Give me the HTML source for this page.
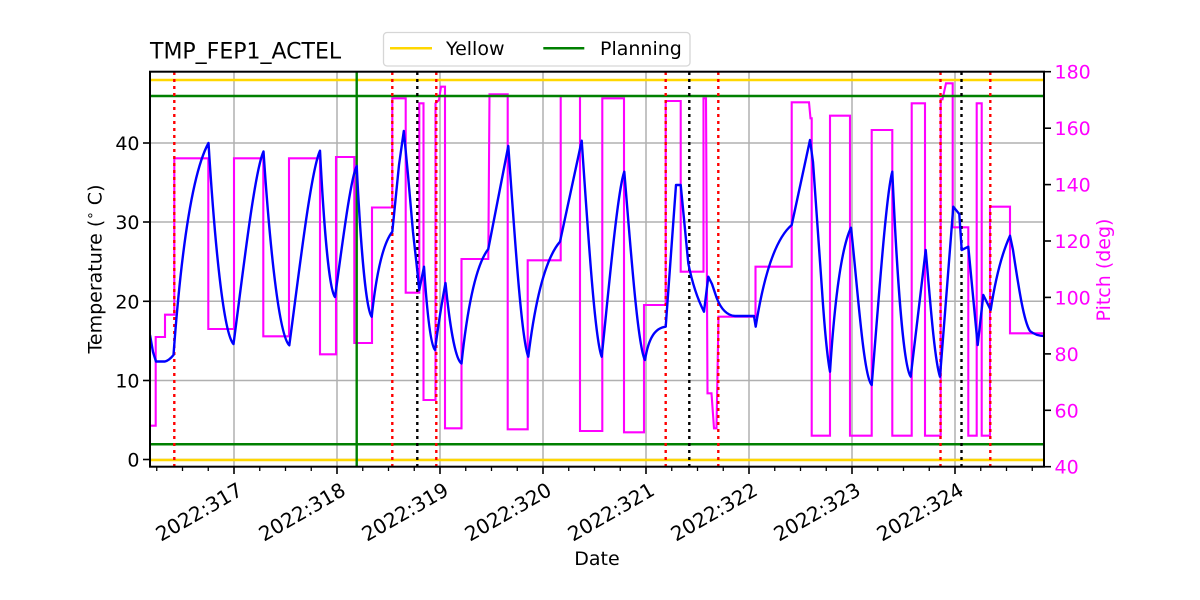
<!DOCTYPE html>
<html>
<head>
<meta charset="utf-8">
<style>
html,body{margin:0;padding:0;background:#fff;}
svg{display:block;}
text{font-family:"DejaVu Sans","Liberation Sans",sans-serif;}
</style>
</head>
<body>
<svg width="1200" height="600" viewBox="0 0 1200 600" xmlns="http://www.w3.org/2000/svg">
<rect x="0" y="0" width="1200" height="600" fill="#fff"/>
<defs>
<clipPath id="pa"><rect x="150" y="71.7" width="894" height="395"/></clipPath>
</defs>

<!-- grid -->
<g stroke="#b0b0b0" stroke-width="1.5" fill="none">
<line x1="234" y1="71.7" x2="234" y2="466.7"/>
<line x1="337" y1="71.7" x2="337" y2="466.7"/>
<line x1="440" y1="71.7" x2="440" y2="466.7"/>
<line x1="543" y1="71.7" x2="543" y2="466.7"/>
<line x1="646" y1="71.7" x2="646" y2="466.7"/>
<line x1="749" y1="71.7" x2="749" y2="466.7"/>
<line x1="852" y1="71.7" x2="852" y2="466.7"/>
<line x1="955" y1="71.7" x2="955" y2="466.7"/>
<line x1="150" y1="459.5" x2="1044" y2="459.5"/>
<line x1="150" y1="380.5" x2="1044" y2="380.5"/>
<line x1="150" y1="301.3" x2="1044" y2="301.3"/>
<line x1="150" y1="222" x2="1044" y2="222"/>
<line x1="150" y1="143" x2="1044" y2="143"/>
</g>

<g clip-path="url(#pa)">
<!-- pitch -->
<path fill="none" stroke="#ff00ff" stroke-width="2.1" stroke-linejoin="miter" d="M150,425.7 H155.7 V337 H165 V314.7 H174.3 V158.3 H208.3 V329 H234 V158.3 H263.3 V336.3 H289 V158.3 H320 V354.3 H336 V157 H354.3 V343 H372 V207.5 H392.3 V98.3 H405.7 V292.7 H419.3 V103.3 H423.5 V400 H435.5 V103.3 L439,100 L441,86.7 H445 V428.3 H461.5 V259 H488.3 L489.5,94.3 H507.7 V429.3 H527.7 V260.3 H560.7 V96 H580 V431 H602.3 V98.3 H624 V432.3 H644 V305 H665.7 V101 H680.7 V271.7 H703.5 V98.3 H706 L707.5,393.3 H711.5 L714,428.3 H716.5 L718.5,316.7 H755.5 V266.7 H791.7 V102.3 H809 L810.5,118.3 H811.7 V435.7 H830 V115.7 H850 V435.7 H871.7 V130 H892.3 V435.7 H911.7 V103.3 H925 V435.7 H940.7 V99.3 L942.5,99.3 L946,83.3 H952.7 V227.3 H968.3 V435.7 H976.7 V103.3 H981.7 V435.7 H990 V206.7 H1010 V333.3 H1044"/>

<!-- limit lines -->
<line x1="150" y1="80" x2="1044" y2="80" stroke="#ffd700" stroke-width="2.5"/>
<line x1="150" y1="460" x2="1044" y2="460" stroke="#ffd700" stroke-width="2.5"/>
<line x1="150" y1="96" x2="1044" y2="96" stroke="#008000" stroke-width="2.5"/>
<line x1="150" y1="444.3" x2="1044" y2="444.3" stroke="#008000" stroke-width="2.5"/>
<line x1="356.7" y1="71.7" x2="356.7" y2="466.7" stroke="#008000" stroke-width="2.4"/>

<!-- dotted verticals -->
<g stroke="#ff0000" stroke-width="2.4" stroke-dasharray="3 4" fill="none">
<line x1="174.3" y1="72" x2="174.3" y2="467"/>
<line x1="392.3" y1="72" x2="392.3" y2="467"/>
<line x1="436.3" y1="72" x2="436.3" y2="467"/>
<line x1="665.7" y1="72" x2="665.7" y2="467"/>
<line x1="718.3" y1="72" x2="718.3" y2="467"/>
<line x1="940.5" y1="72" x2="940.5" y2="467"/>
<line x1="990.3" y1="72" x2="990.3" y2="467"/>
</g>
<g stroke="#000000" stroke-width="2.4" stroke-dasharray="3 4" fill="none">
<line x1="417.3" y1="72" x2="417.3" y2="467"/>
<line x1="689.3" y1="72" x2="689.3" y2="467"/>
<line x1="961.5" y1="72" x2="961.5" y2="467"/>
</g>

<!-- temperature -->
<path fill="none" stroke="#0000ff" stroke-width="2.4" stroke-linejoin="round" d="M150,335 L153,352 L156,361.5 L165,361.5 Q169,360.5 173.5,355 C180.5,259.6 191,174.8 208.5,143 C214.75,243.5 223.5,334 233.5,344 C242.5,276.6 254.5,170.75 263.5,151.5 C269.95,248.4 279,335.6 289.3,345.3 C298.5,277.2 310.8,170.2 320,150.7 C323.75,223.85 329,289.7 335,297 C341.5,251.2 350.2,179.1 356.7,166 C360.45,241.35 365.7,309.2 371.7,316.7 C375.8,278.4 382,244.5 392.3,231.7 L399,165 L403.8,131 L408,175 L413,232 L417,268 L419.3,290 L424,266.7 C426.75,308.4 430.6,345.1 435,350 Q440,312 445.5,283 C449.5,323.25 455.1,359.5 461.5,363.5 C466.9,312 474.9,266.2 488.3,249 L508.3,146 C514.3,230.3 521.3,339.8 528.3,356.7 C534.6,305 544.2,259.95 560,241.7 L581.7,140.7 C587.7,227.1 594.7,339.4 601.7,356.7 C608.5,291.95 617.5,190.2 624.3,171.7 C630.5,247 637.8,347.2 645,360 C648.5,338 655,328 665.7,326.7 L676,185 L680.7,185 L688.3,263.3 Q694,292 704,311.7 L708.3,276.7 L712,284 L716.7,298 C721,309 727,315.5 735,316 L754,316 L755.7,326.7 C762.9,281 773.7,240.3 791.7,225 L810,140 L813,162 L822,290 Q826,350 830,371.7 C834.2,306.9 840.5,249.3 851,227.7 C857.2,282.8 863.4,377.1 871.7,385 C877.9,310.3 886.1,193 892.3,171.7 C896.9,274.2 903.3,366.45 910.7,376.7 L925.7,250 C929.3,290 934.3,360 940,376.7 L953.3,206.7 L959.3,214 L961.7,250 L968.3,246.7 L977.7,345 L983.3,295 L990.7,310 Q998,262 1010,235.7 L1013,250 C1019,290 1024,322 1030,331 C1035,335 1040,336 1044,336"/>
</g>

<!-- axes frame -->
<rect x="150" y="71.7" width="894" height="395" fill="none" stroke="#000" stroke-width="2"/>

<!-- x ticks -->
<g stroke="#000" stroke-width="1.6">
<line x1="234" y1="466.7" x2="234" y2="474"/>
<line x1="337" y1="466.7" x2="337" y2="474"/>
<line x1="440" y1="466.7" x2="440" y2="474"/>
<line x1="543" y1="466.7" x2="543" y2="474"/>
<line x1="646" y1="466.7" x2="646" y2="474"/>
<line x1="749" y1="466.7" x2="749" y2="474"/>
<line x1="852" y1="466.7" x2="852" y2="474"/>
<line x1="955" y1="466.7" x2="955" y2="474"/>
</g>
<g stroke="#000" stroke-width="1.3">
<line x1="156.75" y1="466.7" x2="156.75" y2="471"/><line x1="182.5" y1="466.7" x2="182.5" y2="471"/><line x1="208.25" y1="466.7" x2="208.25" y2="471"/>
<line x1="259.75" y1="466.7" x2="259.75" y2="471"/><line x1="285.5" y1="466.7" x2="285.5" y2="471"/><line x1="311.25" y1="466.7" x2="311.25" y2="471"/>
<line x1="362.75" y1="466.7" x2="362.75" y2="471"/><line x1="388.5" y1="466.7" x2="388.5" y2="471"/><line x1="414.25" y1="466.7" x2="414.25" y2="471"/>
<line x1="465.75" y1="466.7" x2="465.75" y2="471"/><line x1="491.5" y1="466.7" x2="491.5" y2="471"/><line x1="517.25" y1="466.7" x2="517.25" y2="471"/>
<line x1="568.75" y1="466.7" x2="568.75" y2="471"/><line x1="594.5" y1="466.7" x2="594.5" y2="471"/><line x1="620.25" y1="466.7" x2="620.25" y2="471"/>
<line x1="671.75" y1="466.7" x2="671.75" y2="471"/><line x1="697.5" y1="466.7" x2="697.5" y2="471"/><line x1="723.25" y1="466.7" x2="723.25" y2="471"/>
<line x1="774.75" y1="466.7" x2="774.75" y2="471"/><line x1="800.5" y1="466.7" x2="800.5" y2="471"/><line x1="826.25" y1="466.7" x2="826.25" y2="471"/>
<line x1="877.75" y1="466.7" x2="877.75" y2="471"/><line x1="903.5" y1="466.7" x2="903.5" y2="471"/><line x1="929.25" y1="466.7" x2="929.25" y2="471"/>
<line x1="980.75" y1="466.7" x2="980.75" y2="471"/><line x1="1006.5" y1="466.7" x2="1006.5" y2="471"/><line x1="1032.25" y1="466.7" x2="1032.25" y2="471"/>
</g>

<!-- x tick labels -->
<g font-size="20" fill="#000" text-anchor="end">
<text x="244" y="494" transform="rotate(-30 244 494)">2022:317</text>
<text x="347" y="494" transform="rotate(-30 347 494)">2022:318</text>
<text x="450" y="494" transform="rotate(-30 450 494)">2022:319</text>
<text x="553" y="494" transform="rotate(-30 553 494)">2022:320</text>
<text x="656" y="494" transform="rotate(-30 656 494)">2022:321</text>
<text x="759" y="494" transform="rotate(-30 759 494)">2022:322</text>
<text x="862" y="494" transform="rotate(-30 862 494)">2022:323</text>
<text x="965" y="494" transform="rotate(-30 965 494)">2022:324</text>
</g>

<!-- left y ticks -->
<g stroke="#000" stroke-width="1.6">
<line x1="143" y1="459.5" x2="150" y2="459.5"/>
<line x1="143" y1="380.5" x2="150" y2="380.5"/>
<line x1="143" y1="301.3" x2="150" y2="301.3"/>
<line x1="143" y1="222" x2="150" y2="222"/>
<line x1="143" y1="143" x2="150" y2="143"/>
</g>
<g font-size="19" fill="#000" text-anchor="end">
<text x="139.5" y="466.5">0</text>
<text x="139.5" y="387.5">10</text>
<text x="139.5" y="308.3">20</text>
<text x="139.5" y="229">30</text>
<text x="139.5" y="150">40</text>
</g>

<!-- right y ticks -->
<g stroke="#000" stroke-width="1.6">
<line x1="1044" y1="466.7" x2="1051" y2="466.7"/>
<line x1="1044" y1="410.3" x2="1051" y2="410.3"/>
<line x1="1044" y1="353.9" x2="1051" y2="353.9"/>
<line x1="1044" y1="297.4" x2="1051" y2="297.4"/>
<line x1="1044" y1="241" x2="1051" y2="241"/>
<line x1="1044" y1="184.6" x2="1051" y2="184.6"/>
<line x1="1044" y1="128.2" x2="1051" y2="128.2"/>
<line x1="1044" y1="71.7" x2="1051" y2="71.7"/>
</g>
<g font-size="19" fill="#ff00ff" text-anchor="start">
<text x="1054.5" y="473.7">40</text>
<text x="1054.5" y="417.3">60</text>
<text x="1054.5" y="360.9">80</text>
<text x="1054.5" y="304.4">100</text>
<text x="1054.5" y="248">120</text>
<text x="1054.5" y="191.6">140</text>
<text x="1054.5" y="135.2">160</text>
<text x="1054.5" y="78.7">180</text>
</g>

<!-- axis labels -->
<text x="101.5" y="269" font-size="19" fill="#000" text-anchor="middle" transform="rotate(-90 101.5 269)">Temperature (<tspan font-size="13.5" dy="-7">∘</tspan><tspan dy="7"> C)</tspan></text>
<text x="1110" y="270" font-size="19" fill="#ff00ff" text-anchor="middle" transform="rotate(-90 1110 270)">Pitch (deg)</text>
<text x="597" y="565" font-size="19" fill="#000" text-anchor="middle">Date</text>

<!-- title -->
<text x="150" y="58.3" font-size="22" fill="#000">TMP_FEP1_ACTEL</text>

<!-- legend -->
<rect x="383.5" y="32.5" width="306.5" height="33.5" rx="3.5" ry="3.5" fill="#fff" stroke="#d6d6d6" stroke-width="1.3"/>
<line x1="390" y1="48.3" x2="432" y2="48.3" stroke="#ffd700" stroke-width="2.5"/>
<text x="446" y="54.8" font-size="19" fill="#000">Yellow</text>
<line x1="543.3" y1="48.3" x2="584.3" y2="48.3" stroke="#008000" stroke-width="2.5"/>
<text x="600" y="54.8" font-size="19" fill="#000">Planning</text>
</svg>
</body>
</html>
